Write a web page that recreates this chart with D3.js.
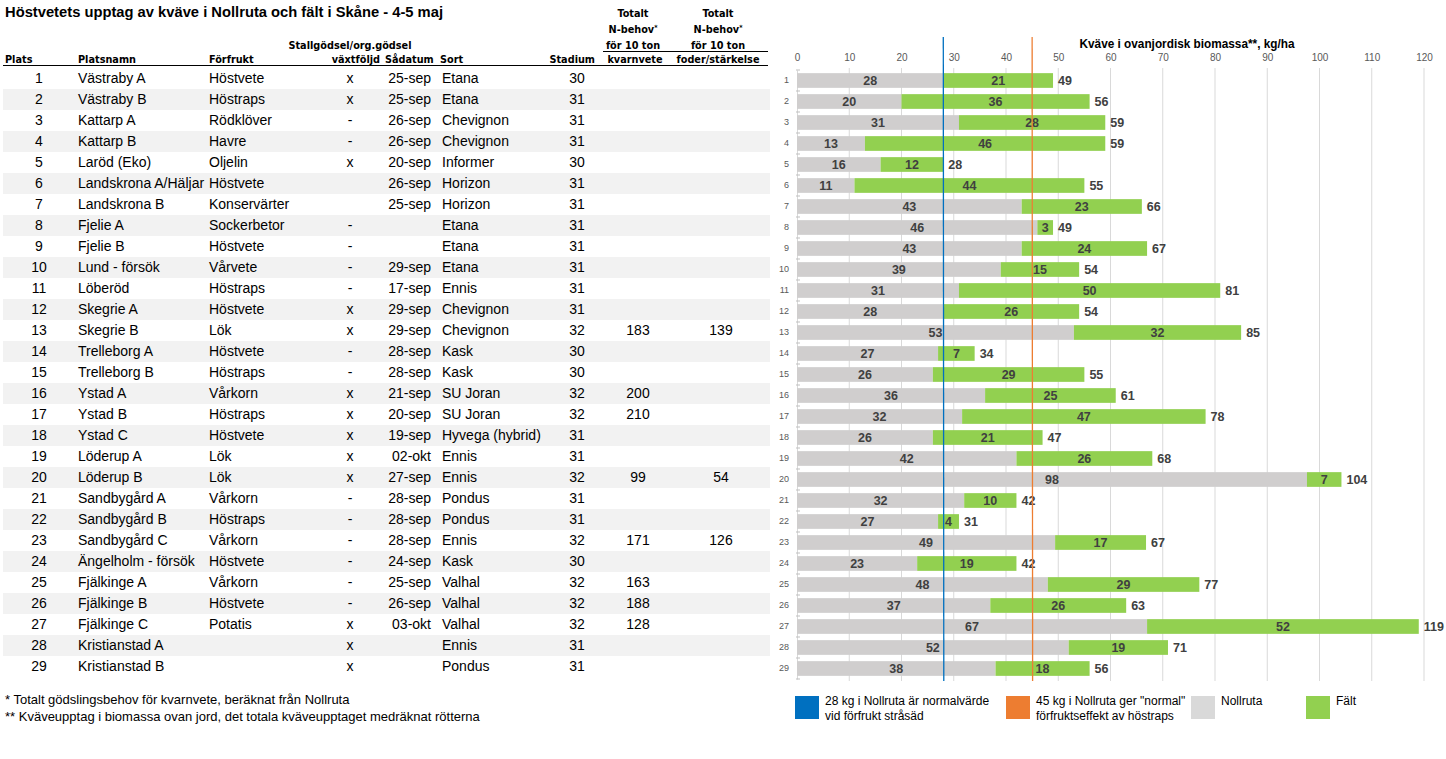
<!DOCTYPE html>
<html>
<head>
<meta charset="utf-8">
<script src="https://cdn.jsdelivr.net/npm/d3@7"></script>
<style>
  html, body { margin: 0; padding: 0; background: #fff; }
  svg { display: block; }
  .hdr { font-family: "DejaVu Sans Condensed", "DejaVu Sans", sans-serif; font-stretch: condensed; font-weight: bold; font-size: 10.8px; fill: #000; }
  .cell { font-family: "Liberation Sans", Arial, sans-serif; font-size: 14px; fill: #000; }
</style>
</head>
<body>
<div id="chart"></div>
<script>
const plats = d3.range(1, 30);
const platsnamn = ["Västraby A", "Västraby B", "Kattarp A", "Kattarp B", "Laröd (Eko)", "Landskrona A/Häljar",
  "Landskrona B", "Fjelie A", "Fjelie B", "Lund - försök", "Löberöd", "Skegrie A", "Skegrie B", "Trelleborg A",
  "Trelleborg B", "Ystad A", "Ystad B", "Ystad C", "Löderup A", "Löderup B", "Sandbygård A", "Sandbygård B",
  "Sandbygård C", "Ängelholm - försök", "Fjälkinge A", "Fjälkinge B", "Fjälkinge C", "Kristianstad A", "Kristianstad B"];
const forfrukt = ["Höstvete", "Höstraps", "Rödklöver", "Havre", "Oljelin", "Höstvete", "Konservärter", "Sockerbetor",
  "Höstvete", "Vårvete", "Höstraps", "Höstvete", "Lök", "Höstvete", "Höstraps", "Vårkorn", "Höstraps", "Höstvete",
  "Lök", "Lök", "Vårkorn", "Höstraps", "Vårkorn", "Höstvete", "Vårkorn", "Höstvete", "Potatis", "", ""];
const vaxtfoljd = ["x", "x", "-", "-", "x", "", "", "-", "-", "-", "-", "x", "x", "-", "-", "x", "x", "x", "x", "x",
  "-", "-", "-", "-", "-", "-", "x", "x", "x"];
const sadatum = ["25-sep", "25-sep", "26-sep", "26-sep", "20-sep", "26-sep", "25-sep", "", "", "29-sep", "17-sep",
  "29-sep", "29-sep", "28-sep", "28-sep", "21-sep", "20-sep", "19-sep", "02-okt", "27-sep", "28-sep", "28-sep",
  "28-sep", "24-sep", "25-sep", "26-sep", "03-okt", "", ""];
const sort = ["Etana", "Etana", "Chevignon", "Chevignon", "Informer", "Horizon", "Horizon", "Etana", "Etana", "Etana",
  "Ennis", "Chevignon", "Chevignon", "Kask", "Kask", "SU Joran", "SU Joran", "Hyvega (hybrid)", "Ennis", "Ennis",
  "Pondus", "Pondus", "Ennis", "Kask", "Valhal", "Valhal", "Valhal", "Ennis", "Pondus"];
const stadium = [30, 31, 31, 31, 30, 31, 31, 31, 31, 31, 31, 31, 32, 30, 30, 32, 32, 31, 31, 32, 31, 31, 32, 30, 32,
  32, 32, 31, 31];
const kvarnvete = ["", "", "", "", "", "", "", "", "", "", "", "", 183, "", "", 200, 210, "", "", 99, "", "", 171, "",
  163, 188, 128, "", ""];
const foderstarkelse = ["", "", "", "", "", "", "", "", "", "", "", "", 139, "", "", "", "", "", "", 54, "", "", 126,
  "", "", "", "", "", ""];

// kg N/ha i ovanjordisk biomassa
const nollruta = [28, 20, 31, 13, 16, 11, 43, 46, 43, 39, 31, 28, 53, 27, 26, 36, 31.6, 26, 42, 97.6, 32, 27, 49.4,
  23, 48, 37, 67, 52, 38];
const falt = [21, 36, 28, 46, 12, 44, 23, 3, 24, 15, 50, 26, 32, 7, 29, 25, 46.6, 21, 26, 6.6, 10, 4, 17.4, 19, 29,
  26, 52, 19, 18];
const xTicks = d3.range(0, 121, 10);
const refLines = [
  { value: 28, color: "#0070c0", label: ["28 kg i Nollruta är normalvärde", "vid förfrukt stråsäd"] },
  { value: 45, color: "#ed7d31", label: ["45 kg i Nollruta ger \"normal\"", "förfruktseffekt av höstraps"] }
];

const W = 1446, H = 759;
const svg = d3.select("#chart").append("svg").attr("width", W).attr("height", H);
svg.append("rect").attr("width", W).attr("height", H).attr("fill", "#fff");

const fmt = d3.format(".0f");
const rows = plats.map((p, i) => ({
  plats: p, namn: platsnamn[i], forfrukt: forfrukt[i], vaxt: vaxtfoljd[i], datum: sadatum[i], sort: sort[i],
  stadium: stadium[i], kvarn: kvarnvete[i], foder: foderstarkelse[i], noll: nollruta[i], falt: falt[i]
}));

// ---------- Table ----------
const yRow = d3.scaleBand().domain(plats).range([68, 68 + 29 * 21]);

svg.append("text").attr("x", 5).attr("y", 17)
  .style("font-family", "'Liberation Sans', Arial, sans-serif").style("font-weight", "bold").style("font-size", "14.5px")
  .attr("textLength", 438).attr("lengthAdjust", "spacingAndGlyphs")
  .text("Höstvetets upptag av kväve i Nollruta och fält i Skåne - 4-5 maj");

const headers = [
  { t: "Plats", x: 5, y: 63, a: "start" },
  { t: "Platsnamn", x: 78, y: 63, a: "start" },
  { t: "Förfrukt", x: 209, y: 63, a: "start" },
  { t: "Stallgödsel/org.gödsel", x: 350, y: 49, a: "middle" },
  { t: "växtföljd", x: 380, y: 63, a: "end" },
  { t: "Sådatum", x: 385, y: 63, a: "start" },
  { t: "Sort", x: 440, y: 63, a: "start" },
  { t: "Stadium", x: 595, y: 63, a: "end" },
  { t: "Totalt", x: 633, y: 17, a: "middle" },
  { t: "N-behov", x: 633, y: 33, a: "middle", star: true },
  { t: "för 10 ton", x: 633, y: 49, a: "middle" },
  { t: "kvarnvete", x: 635, y: 63, a: "middle" },
  { t: "Totalt", x: 718, y: 17, a: "middle" },
  { t: "N-behov", x: 718, y: 33, a: "middle", star: true },
  { t: "för 10 ton", x: 718, y: 49, a: "middle" },
  { t: "foder/stärkelse", x: 718, y: 63, a: "middle" }
];
const hdr = svg.selectAll(".hdr").data(headers).enter().append("text")
  .attr("class", "hdr").attr("x", d => d.x).attr("y", d => d.y).attr("text-anchor", d => d.a)
  .text(d => d.t);
hdr.filter(d => d.star).append("tspan").attr("dy", -3).style("font-size", "7px").text("*");

svg.append("line").attr("x1", 603).attr("x2", 768).attr("y1", 51.5).attr("y2", 51.5)
  .attr("stroke", "#000").attr("stroke-width", 1);
svg.append("line").attr("x1", 3).attr("x2", 768).attr("y1", 65.5).attr("y2", 65.5)
  .attr("stroke", "#000").attr("stroke-width", 1.2);

const rowG = svg.append("g").selectAll("g").data(rows).enter().append("g")
  .attr("transform", d => `translate(0,${yRow(d.plats)})`);
rowG.filter(d => d.plats % 2 === 0).append("rect")
  .attr("x", 3).attr("width", 767).attr("height", yRow.bandwidth()).attr("fill", "#f2f2f2");

const cols = [
  { key: "plats", x: 39, a: "middle" },
  { key: "namn", x: 78, a: "start" },
  { key: "forfrukt", x: 209, a: "start" },
  { key: "vaxt", x: 350, a: "middle" },
  { key: "datum", x: 431, a: "end" },
  { key: "sort", x: 442, a: "start" },
  { key: "stadium", x: 577, a: "middle" },
  { key: "kvarn", x: 638, a: "middle" },
  { key: "foder", x: 721, a: "middle" }
];
cols.forEach(c => {
  rowG.append("text").attr("class", "cell")
    .attr("x", c.x).attr("y", 15).attr("text-anchor", c.a)
    .text(d => d[c.key]);
});

svg.append("text").attr("class", "cell").attr("x", 5).attr("y", 704).style("font-size", "13px")
  .text("* Totalt gödslingsbehov för kvarnvete, beräknat från Nollruta");
svg.append("text").attr("class", "cell").attr("x", 5).attr("y", 721).style("font-size", "13px")
  .text("** Kväveupptag i biomassa ovan jord, det totala kväveupptaget medräknat rötterna");

// ---------- Chart ----------
const x = d3.scaleLinear().domain([0, 120]).range([797, 1424]);
const y = d3.scaleBand().domain(plats).range([70, 70 + 29 * 21]).paddingInner(0.3).paddingOuter(0.15);
const gridTop = 68, gridBottom = 681;

svg.append("g").selectAll("line").data(xTicks.slice(1)).enter().append("line")
  .attr("x1", d => x(d)).attr("x2", d => x(d)).attr("y1", gridTop).attr("y2", gridBottom)
  .attr("stroke", "#d9d9d9").attr("stroke-width", 1);

const xAxis = svg.append("g").attr("transform", `translate(0,64)`)
  .call(d3.axisTop(x).tickValues(xTicks).tickSize(0).tickPadding(3));
xAxis.select(".domain").remove();
xAxis.selectAll("text").style("font-family", "'Liberation Sans', Arial, sans-serif")
  .style("font-size", "10px").attr("fill", "#595959");

svg.append("text").attr("x", 1187).attr("y", 48).attr("text-anchor", "middle")
  .style("font-family", "'Liberation Sans', Arial, sans-serif").style("font-weight", "bold").style("font-size", "12.5px")
  .attr("textLength", 215).attr("lengthAdjust", "spacingAndGlyphs")
  .text("Kväve i ovanjordisk biomassa**, kg/ha");

// y axis: faint line with small ticks between rows
const yAxis = svg.append("g").attr("transform", `translate(${x(0)},0)`)
  .call(d3.axisLeft(y).tickSize(0).tickPadding(8));
yAxis.select(".domain").attr("stroke", "#d9d9d9");
yAxis.selectAll("text").style("font-family", "'Liberation Sans', Arial, sans-serif")
  .style("font-size", "9px").attr("fill", "#595959");
const step = y.step();
svg.append("g").selectAll("line").data(d3.range(30)).enter().append("line")
  .attr("x1", x(0) - 1).attr("x2", x(0) + 3)
  .attr("y1", i => 70 + i * step).attr("y2", i => 70 + i * step)
  .attr("stroke", "#bfbfbf").attr("stroke-width", 1);

const barG = svg.append("g").selectAll("g").data(rows).enter().append("g");
barG.append("rect").attr("x", x(0)).attr("y", d => y(d.plats))
  .attr("width", d => x(d.noll) - x(0)).attr("height", y.bandwidth()).attr("fill", "#d0cece");
barG.append("rect").attr("x", d => x(d.noll)).attr("y", d => y(d.plats))
  .attr("width", d => x(d.noll + d.falt) - x(d.noll)).attr("height", y.bandwidth()).attr("fill", "#92d050");

const lblStyle = sel => sel.style("font-family", "'Liberation Sans', Arial, sans-serif")
  .style("font-weight", "bold").style("font-size", "12.5px").attr("fill", "#404040")
  .attr("dy", "0.36em");
barG.append("text").attr("x", d => x(d.noll / 2)).attr("y", d => y(d.plats) + y.bandwidth() / 2)
  .attr("text-anchor", "middle").call(lblStyle).text(d => fmt(d.noll));
barG.append("text").attr("x", d => x(d.noll + d.falt / 2)).attr("y", d => y(d.plats) + y.bandwidth() / 2)
  .attr("text-anchor", "middle").call(lblStyle).text(d => fmt(d.falt));
barG.append("text").attr("x", d => x(d.noll + d.falt) + 5).attr("y", d => y(d.plats) + y.bandwidth() / 2)
  .attr("text-anchor", "start").call(lblStyle).text(d => fmt(d.noll + d.falt));

// reference lines
svg.append("g").selectAll("line").data(refLines).enter().append("line")
  .attr("x1", d => x(d.value)).attr("x2", d => x(d.value) + 0.5).attr("y1", 37).attr("y2", gridBottom)
  .attr("stroke", d => d.color).attr("stroke-width", 1.3);

// ---------- Legend ----------
const legend = [
  { color: refLines[0].color, lines: refLines[0].label, x: 795 },
  { color: refLines[1].color, lines: refLines[1].label, x: 1006 },
  { color: "#d9d9d9", lines: ["Nollruta"], x: 1191 },
  { color: "#92d050", lines: ["Fält"], x: 1306 }
];
const lg = svg.append("g").selectAll("g").data(legend).enter().append("g")
  .attr("transform", d => `translate(${d.x},696)`);
lg.append("rect").attr("width", 24).attr("height", 23).attr("fill", d => d.color);
lg.append("text").style("font-family", "'Liberation Sans', Arial, sans-serif").style("font-size", "12px")
  .attr("fill", "#000")
  .selectAll("tspan").data(d => d.lines).enter().append("tspan")
  .attr("x", 30).attr("y", (t, i) => 9 + i * 15).text(t => t);
</script>
</body>
</html>
